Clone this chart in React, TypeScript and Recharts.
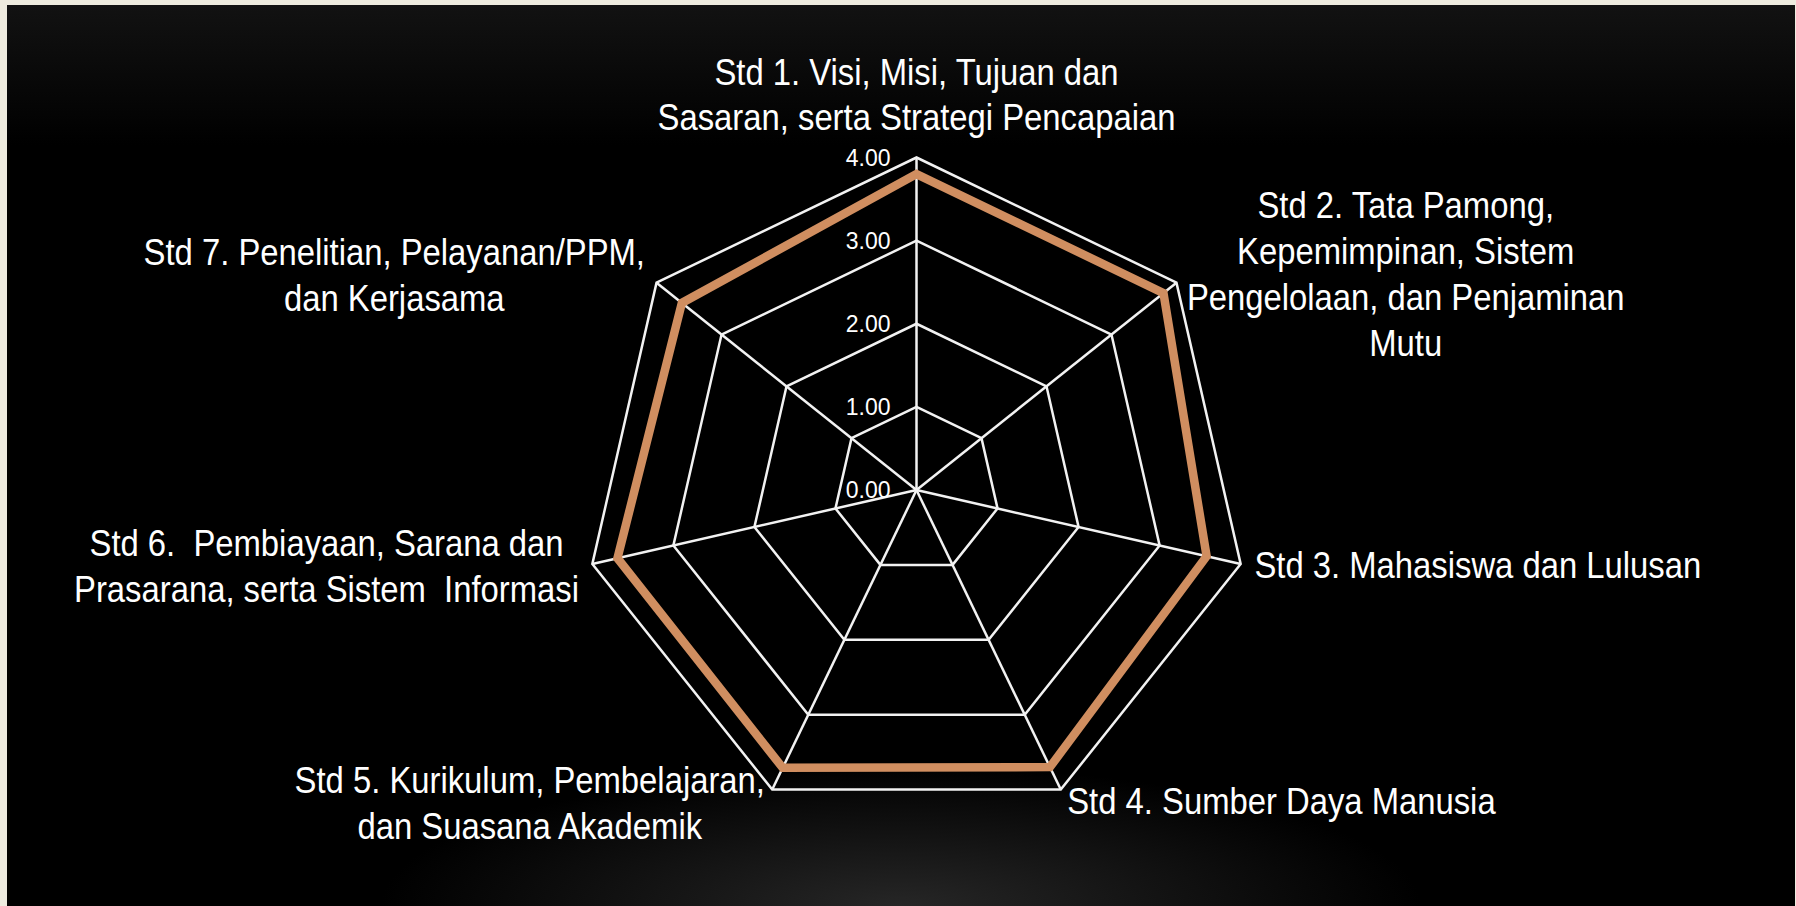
import { PolarAngleAxis, PolarGrid, PolarRadiusAxis, Radar, RadarChart } from 'recharts';

// standar akreditasi, skor 0-4
const standards = ['Std 1', 'Std 2', 'Std 3', 'Std 4', 'Std 5', 'Std 6', 'Std 7'];
const scores = [3.8, 3.8, 3.58, 3.7, 3.71, 3.69, 3.61];
const radiusTicks = [0, 1, 2, 3, 4];
const labelLines = [
  ['Std 1. Visi, Misi, Tujuan dan', 'Sasaran, serta Strategi Pencapaian'],
  ['Std 2. Tata Pamong,', 'Kepemimpinan, Sistem', 'Pengelolaan, dan Penjaminan', 'Mutu'],
  ['Std 3. Mahasiswa dan Lulusan'],
  ['Std 4. Sumber Daya Manusia'],
  ['Std 5. Kurikulum, Pembelajaran,', 'dan Suasana Akademik'],
  ['Std 6.  Pembiayaan, Sarana dan', 'Prasarana, serta Sistem  Informasi'],
  ['Std 7. Penelitian, Pelayanan/PPM,', 'dan Kerjasama'],
];

const data = standards.map((name, i) => ({ name, score: scores[i] }));

// label placement relative to the tick point: [anchor, dx, dy of first baseline]
const LABEL_POS: [string, number, number][] = [
  ['middle', 0, -65],
  ['middle', 223, -60],
  ['start', 6, 12],
  ['start', 3, 17],
  ['middle', -239, -4],
  ['middle', -258, -10],
  ['middle', -256, -13],
];

const FONT = '"Liberation Sans", Arial, sans-serif';
const SQUEEZE = 0.875;
const LINE_H = 46;

const AngleTick = ({ x, y, index }: any) => {
  const [anchor, dx, dy] = LABEL_POS[index];
  const lines = labelLines[index];
  return (
    <text
      transform={`translate(${x + dx} ${y + dy}) scale(${SQUEEZE} 1)`}
      textAnchor={anchor as any}
      fill="#ffffff"
      fontSize={37.5}
      fontFamily={FONT}
      style={{ whiteSpace: 'pre' }}
    >
      {lines.map((line, i) => (
        <tspan key={i} x={0} y={i * LINE_H}>
          {line}
        </tspan>
      ))}
    </text>
  );
};

const RadiusTick = ({ x, y, payload }: any) => (
  <text x={x - 26} y={y + 8} textAnchor="end" fill="#ffffff" fontSize={23} fontFamily={FONT}>
    {Number(payload.value).toFixed(2)}
  </text>
);

export default function App() {
  return (
    <div
      style={{
        position: 'absolute',
        left: 0,
        top: 0,
        width: 1796,
        height: 906,
        background: '#eeebdf',
        overflow: 'hidden',
      }}
    >
      <div
        style={{
          position: 'absolute',
          left: 7,
          top: 5,
          width: 1788,
          height: 901,
          background:
            'radial-gradient(ellipse 520px 140px at 50% 100%, #262626, rgba(0,0,0,0)), linear-gradient(#121212 0px, #000000 140px)',
        }}
      />
      <div style={{ position: 'absolute', left: 0, top: 0 }}>
        <RadarChart
          width={1796}
          height={906}
          data={data}
          cx={916.5}
          cy={490}
          outerRadius={332.5}
          startAngle={90}
          endAngle={-270}
        >
          <PolarGrid gridType="polygon" stroke="#f2f2f2" strokeWidth={2.5} />
          <PolarAngleAxis dataKey="name" tick={<AngleTick />} tickLine={false} axisLine={false} />
          <PolarRadiusAxis
            angle={90}
            domain={[0, 4]}
            ticks={radiusTicks as any}
            tickCount={5}
            tick={<RadiusTick />}
            axisLine={false}
            tickLine={false}
          />
          <Radar
            dataKey="score"
            stroke="#d08e60"
            strokeWidth={8.5}
            fill="none"
            fillOpacity={0}
            dot={false}
            isAnimationActive={false}
          />
        </RadarChart>
      </div>
    </div>
  );
}
